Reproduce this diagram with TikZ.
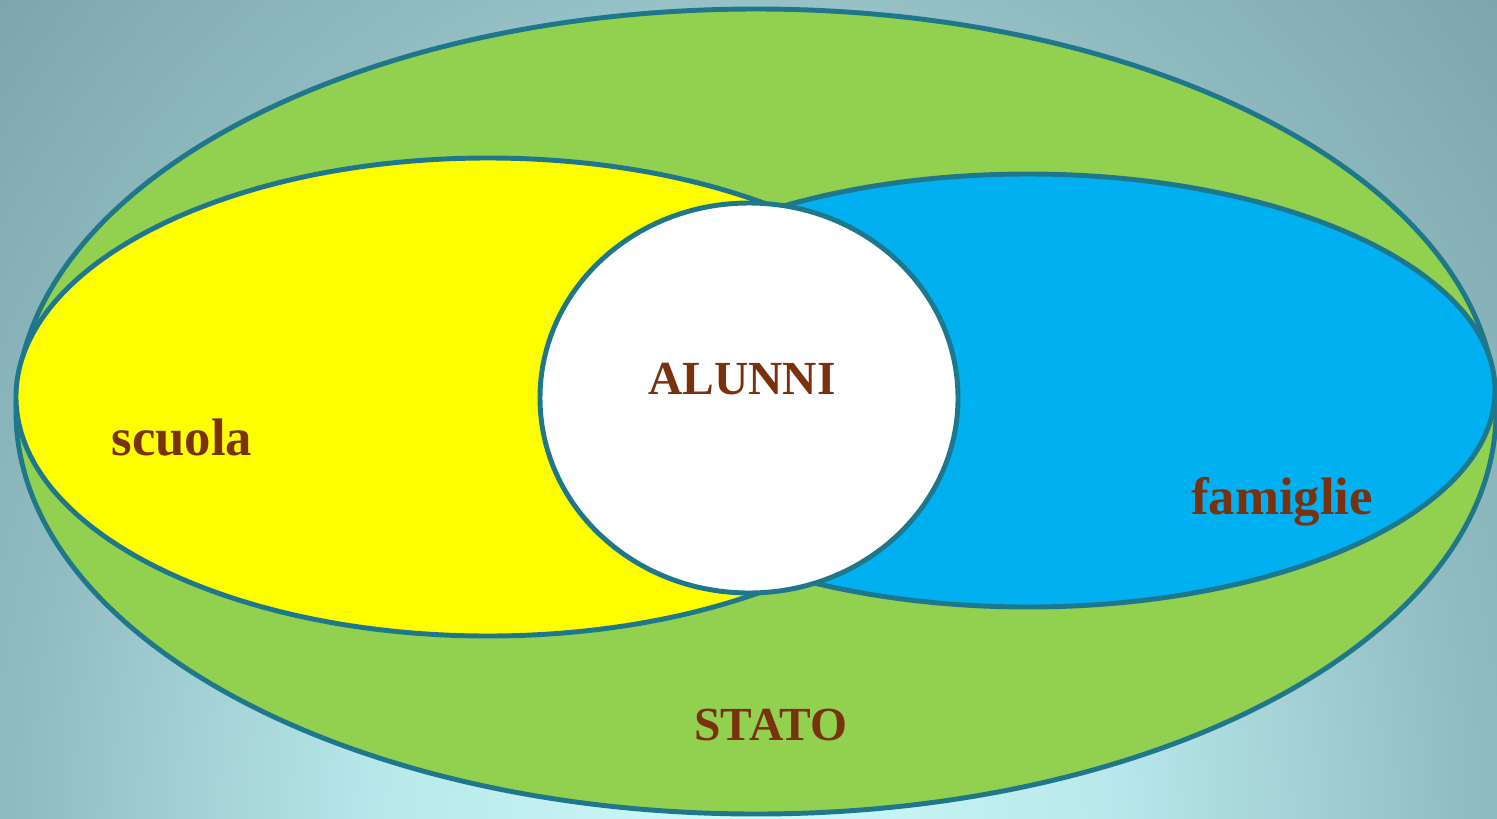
\documentclass[tikz,border=0pt]{standalone}
\usepackage{fontspec}
\setmainfont{Liberation Serif}
\usepackage{tikz}
\usetikzlibrary{positioning}
\definecolor{rim}{RGB}{31,119,139}
\definecolor{statogreen}{RGB}{146,208,80}
\definecolor{scuolayellow}{RGB}{255,255,0}
\definecolor{famblue}{RGB}{0,176,240}
\definecolor{labelbrown}{RGB}{122,50,14}
\pgfdeclareradialshading{bgglow}{\pgfpoint{0bp}{0bp}}{%
	rgb(0bp)=(0.81,0.98,0.98); rgb(8bp)=(0.72,0.91,0.92);
	rgb(16bp)=(0.56,0.73,0.75); rgb(25bp)=(0.45,0.61,0.63); rgb(50bp)=(0.45,0.61,0.63)}
\tikzset{%
	set/.style      = {draw=rim, line width=1.4pt}, % Ellipse
	caps/.style     = {text=labelbrown, font=\fontsize{13.5}{15}\selectfont\bfseries, anchor=base},
	lower/.style    = {text=labelbrown, font=\fontsize{15}{17}\selectfont\bfseries, anchor=base},
}

\begin{document}
\begin{tikzpicture}[x=0.01cm, y=-0.01cm]
		\useasboundingbox (0,0) rectangle (1497,818);
		\begin{scope}
			\clip (0,0) rectangle (1497,818);
			\shade[shading=bgglow] (748,818) ellipse [x radius=1150, y radius=1400];
		\end{scope}
		\draw[set, fill=statogreen] (756,411.5) ellipse [x radius=740, y radius=402.5];
		\draw[set, fill=scuolayellow] (488,397) ellipse [x radius=472, y radius=239];
		\draw[set, fill=famblue] (1028,390.5) ellipse [x radius=467, y radius=216.5];
		\draw[set, fill=white] (749,398) ellipse [x radius=209, y radius=195];
		\node[caps] (alunni) at (742,394) {ALUNNI};
		\node[lower] (scuola) at (182,455) {scuola};
		\node[lower] (famiglie) at (1282,514) {famiglie};
		\node[caps] (stato) at (771,740) {STATO};
		\end{tikzpicture}
\end{document}
